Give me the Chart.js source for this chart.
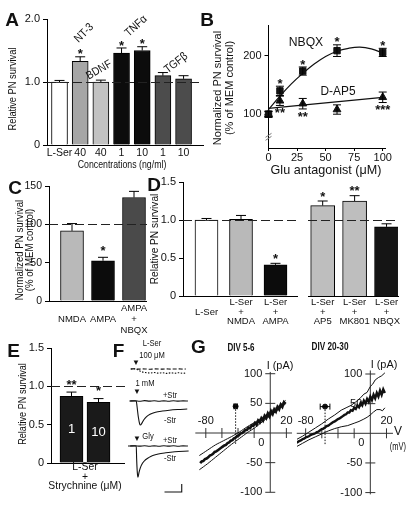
<!DOCTYPE html>
<html>
<head>
<meta charset="utf-8">
<title>PN survival figure</title>
<script src="https://cdn.jsdelivr.net/npm/chart.js@4.4.1/dist/chart.umd.min.js"></script>
<style>
  html, body { margin: 0; padding: 0; background: #fff; }
  body { position: relative; width: 413px; height: 508px; overflow: hidden; color: #111;
         font-family: "Liberation Sans", Arial, Helvetica, sans-serif; }
  canvas { position: absolute; }
  .t { position: absolute; white-space: nowrap; line-height: 1; }
</style>
</head>
<body>
<script>
// ---------- A: trophic factors ----------
const aConc = ['L-Ser', '40', '40', '1', '10', '1', '10'];
const aSurv = [1.00, 1.33, 1.00, 1.46, 1.50, 1.10, 1.05];
const aSem = [0.025, 0.07, 0.03, 0.08, 0.06, 0.05, 0.05];
const aSig = ['', '*', '', '*', '*', '', ''];
const aYTicks = [0, 1, 2];

// ---------- B: Glu antagonist dose response ----------
const bDose = [0, 10, 30, 60, 100];
const bNbqx = [100, 140, 174, 209, 206];
const bNbqxSem = [5, 8, 7, 10, 7];
const bNbqxSig = ['', '*', '*', '*', '*'];
const bAp5 = [100, 123, 118, 108, 129];
const bAp5Sem = [5, 8, 9, 8, 9];
const bAp5Sig = ['', '**', '**', '', '***'];
const bFitDose = [0, 10, 20, 30, 40, 50, 60, 70, 80, 90, 100];
const bNbqxFit = [108, 131, 152, 170, 186, 199, 208, 213, 215, 212, 205];
const bAp5FitDose = [0, 100];
const bAp5Fit = [110, 129];
const bXTicks = [0, 25, 50, 75, 100];
const bYTicks = [100, 200];

// ---------- C ----------
const cCats = [['', 'NMDA'], ['', 'AMPA'], ['AMPA', '+', 'NBQX']];
const cSurv = [91.5, 52.5, 135];
const cSem = [9.5, 4.5, 8];
const cSig = ['', '*', ''];
const cYTicks = [0, 50, 100, 150];

// ---------- D ----------
const dCatsL = [['', 'L-Ser'], ['L-Ser', '+', 'NMDA'], ['L-Ser', '+', 'AMPA']];
const dSurvL = [1.00, 1.01, 0.41];
const dSemL = [0.02, 0.05, 0.02];
const dSigL = ['', '', '*'];
const dCatsR = [['L-Ser', '+', 'AP5'], ['L-Ser', '+', 'MK801'], ['L-Ser', '+', 'NBQX']];
const dSurvR = [1.19, 1.25, 0.91];
const dSemR = [0.06, 0.07, 0.04];
const dSigR = ['*', '**', ''];
const dYTicks = [0, 0.5, 1, 1.5];

// ---------- E ----------
const eStry = ['1', '10'];
const eSurv = [0.87, 0.79];
const eSem = [0.055, 0.05];
const eSig = ['**', '*'];
const eYTicks = [0, 0.5, 1, 1.5];

// ---------- F: currents (ms, pA) ----------
const fT100 = [4, 10, 12, 16, 20, 26, 32, 38, 44, 50, 56, 62, 68, 74, 80, 84];
const f100Plus = [0, 3, 0, -2, 2, 0, -3, 1, 0, -2, 2, -1, 0, 2, -2, 0];
const f100Minus = [0, 2, 0, -20, -35, -45, -50, -44, -52, -47, -55, -48, -53, -46, -54, -50];
const fTBase = [3, 10, 17, 24, 31, 38, 45, 52, 59, 66, 73, 80, 87];
const f1mMPlus = [0, 4, -3, 5, -2, 3, -4, 2, -3, 4, -2, 1, 0];
const fT1mM = [2, 12, 13, 15, 17, 18, 20, 23, 27, 32, 40, 50, 60, 72, 86];
const f1mMMinus = [0, 0, -60, -200, -290, -300, -280, -235, -195, -165, -140, -125, -115, -107, -100];
const fGlyPlus = [0, 3, -2, 4, -3, 2, -4, 3, -2, 3, -3, 2, 0];
const fTGly = [0, 12, 12.5, 13.5, 14.5, 16, 18, 21, 25, 30, 36, 44, 55, 68, 88];
const fGlyMinus = [0, 0, -150, -330, -390, -330, -270, -215, -175, -145, -120, -100, -85, -72, -62];
const fBarT = [53, 78, 78];
const fBarI = [-575, -575, -475];

// ---------- G: I-V relations (mV, pA) ----------
const g5MeanV = [-87,-85,-83,-81,-79,-77,-75,-73,-71,-69,-67,-65,-63,-61,-59,-57,-55,-53,-51,-49,-47,-45,-43,-41,-39,-37,-35,-33,-31,-29,-27,-25,-23,-21,-19,-17,-15,-13,-11,-9,-7,-5,-3,-1,1,3,5,7,9,11,13,15,17,19];
const g5MeanI = [-51,-48,-47,-44,-43,-41,-38,-37,-35,-32,-31,-29,-27,-25,-23,-21,-20,-17,-16,-13,-12,-9,-8,-5,-4,-1,0,2,5,5,9,8,13,12,17,14,21,18,25,21,29,25,33,28,37,32,40,36,44,40,48,44,52,49];
const g5SemV = [-88, -78, -68, -58, -48, -38, -28, -18, -8, 2, 12, 19];
const g5UpI = [-38, -29, -20, -13, -6, 2, 11, 19, 28, 38, 47, 55];
const g5LoI = [-62, -52, -41, -30, -19, -9, 1, 10, 21, 31, 42, 49];
const g20MeanV = [-92,-90,-88,-86,-84,-82,-80,-78,-76,-74,-72,-70,-68,-66,-64,-62,-60,-58,-56,-54,-52,-50,-48,-46,-44,-42,-40,-38,-36,-34,-32,-30,-28,-26,-24,-22,-20,-18,-16,-14,-12,-10,-8,-6,-4,-2,0,2,4,6,8,10,12,14,16,18];
const g20MeanI = [-16,-15,-13,-12,-10,-9,-7,-6,-5,-3,-2,-1,0,2,3,5,7,8,10,12,13,15,17,19,20,22,24,25,27,29,31,32,35,35,39,38,43,41,47,44,51,47,55,50,58,53,62,56,65,59,68,62,72,65,74,68];
const g20UpV = [-92, -84, -76, -68, -60, -52, -44, -36, -30, -24, -18, -12, -8, -4, 0, 3, 6, 10, 14, 18];
const g20UpI = [-11, -5, 2, 9, 16, 24, 31, 39, 43, 47, 53, 60, 66, 69, 79, 83, 90, 94, 97, 102];
const g20LoV = [-92, -84, -76, -68, -60, -52, -44, -36, -28, -20, -14, -8, -4, 0, 4, 8, 12, 15, 18];
const g20LoI = [-23, -17, -11, -6, -1, 4, 8, 11, 13, 17, 20, 24, 27, 31, 36, 40, 40, 38, 43];
const gRevV = [-43, -56];
const gRevErr = [2, 6];
const gRevMarkI = 45;
const gRevLowI = -20;
const gVTicks = [-80, -60, -40, -20, 20];
const gVLabels = [-80, 20];
const gITicks = [-100, -50, 50, 100];

const FAM = '"Liberation Sans", Arial, Helvetica, sans-serif';

Chart.defaults.font.family = FAM;
Chart.defaults.font.size = 11;
Chart.defaults.color = '#111';
Chart.defaults.animation = false;
Chart.defaults.responsive = false;
Chart.defaults.maintainAspectRatio = false;
Chart.defaults.devicePixelRatio = 1;
Chart.defaults.events = [];
Chart.defaults.plugins.legend.display = false;
Chart.defaults.plugins.tooltip.enabled = false;

const pts = (xs, ys) => xs.map((x, i) => ({ x: x, y: ys[i] }));

function mk(b) {
  const c = document.createElement('canvas');
  c.width = b[2];
  c.height = b[3];
  c.style.left = b[0] + 'px';
  c.style.top = b[1] + 'px';
  document.body.appendChild(c);
  return c;
}

// text label centred on (x, y); sq squeezes it horizontally like the figure's condensed lettering
function L(s, x, y, size, o) {
  o = o || {};
  const sq = o.sq === undefined ? 0.85 : o.sq;
  const d = document.createElement('div');
  d.className = 't';
  d.textContent = s;
  d.style.left = x + 'px';
  d.style.top = y + 'px';
  d.style.fontSize = size + 'px';
  if (o.bold) d.style.fontWeight = 'bold';
  d.style.transform = 'translate(-50%,-50%)' + (o.rot ? ' rotate(' + o.rot + 'deg)' : '') + ' scaleX(' + sq + ')';
  document.body.appendChild(d);
}

// ---------- plugins ----------
// error bars, significance stars, labels inside bars
const marks = {
  id: 'marks',
  afterDatasetsDraw(chart, args, opts) {
    const ctx = chart.ctx, ys = chart.scales.y, xs = chart.scales.x;
    const cap = opts.cap || 5, gap = opts.gap || 3;
    ctx.save();
    chart.data.datasets.forEach((ds, di) => {
      const meta = chart.getDatasetMeta(di);
      meta.data.forEach((el, i) => {
        const v = ds.data[i].y;
        let top = el.y, bot = el.y;
        ctx.strokeStyle = '#000';
        ctx.lineWidth = 1;
        ctx.setLineDash([]);
        if (ds.err) {
          const e = ds.err[i];
          top = ys.getPixelForValue(v + e);
          bot = ds.errBoth ? ys.getPixelForValue(v - e) : el.y;
          ctx.beginPath();
          ctx.moveTo(el.x, top); ctx.lineTo(el.x, bot);
          ctx.moveTo(el.x - cap, top); ctx.lineTo(el.x + cap, top);
          if (ds.errBoth) { ctx.moveTo(el.x - cap, bot); ctx.lineTo(el.x + cap, bot); }
          ctx.stroke();
        }
        if (ds.xerr) {
          const e = ds.xerr[i], xv = ds.data[i].x;
          const l = xs.getPixelForValue(xv - e), r = xs.getPixelForValue(xv + e);
          ctx.beginPath();
          ctx.moveTo(l, el.y); ctx.lineTo(r, el.y);
          ctx.moveTo(l, el.y - 3); ctx.lineTo(l, el.y + 3);
          ctx.moveTo(r, el.y - 3); ctx.lineTo(r, el.y + 3);
          ctx.stroke();
        }
        if (ds.sig && ds.sig[i]) {
          ctx.fillStyle = '#111';
          ctx.font = 'bold 13px ' + FAM;
          ctx.textAlign = 'center';
          ctx.textBaseline = 'middle';
          const y = ds.sigBelow ? bot + gap + 6 : top - gap;
          ctx.fillText(ds.sig[i], el.x, y);
        }
        if (ds.inner) {
          ctx.fillStyle = '#fff';
          ctx.font = '13px ' + FAM;
          ctx.textAlign = 'center';
          ctx.textBaseline = 'middle';
          ctx.fillText(ds.inner[i], el.x, (el.y + el.base) / 2);
        }
      });
    });
    ctx.restore();
  }
};

// dashed control level
const refLine = {
  id: 'refLine',
  afterDatasetsDraw(chart, args, o) {
    if (o.value === undefined) return;
    const a = chart.chartArea, ctx = chart.ctx;
    const y = Math.round(chart.scales.y.getPixelForValue(o.value)) + 0.5;
    ctx.save();
    ctx.strokeStyle = '#222';
    ctx.lineWidth = 1.2;
    ctx.setLineDash([9, 4]);
    ctx.beginPath();
    ctx.moveTo(a.left, y);
    ctx.lineTo(a.right + (o.extend || 0), y);
    ctx.stroke();
    ctx.restore();
  }
};

// broken y axis mark
const axisBreak = {
  id: 'axisBreak',
  afterDraw(chart, args, o) {
    if (o.at === undefined) return;
    const ctx = chart.ctx, x = chart.chartArea.left, y = chart.scales.y.getPixelForValue(o.at);
    ctx.save();
    ctx.strokeStyle = '#777';
    ctx.lineWidth = 1;
    ctx.beginPath();
    ctx.moveTo(x - 3, y + 1); ctx.lineTo(x + 3, y - 3);
    ctx.moveTo(x - 3, y + 4); ctx.lineTo(x + 3, y);
    ctx.stroke();
    ctx.restore();
  }
};

// crossing axes for the I-V plots
const ivAxes = {
  id: 'ivAxes',
  beforeDatasetsDraw(chart, args, o) {
    if (!o.vRange) return;
    const ctx = chart.ctx, xs = chart.scales.x, ys = chart.scales.y;
    const x0 = xs.getPixelForValue(0), y0 = ys.getPixelForValue(0);
    ctx.save();
    ctx.strokeStyle = '#333';
    ctx.lineWidth = 1;
    ctx.beginPath();
    ctx.moveTo(xs.getPixelForValue(o.vRange[0]), y0); ctx.lineTo(xs.getPixelForValue(o.vRange[1]), y0);
    ctx.moveTo(x0, ys.getPixelForValue(o.iRange[0])); ctx.lineTo(x0, ys.getPixelForValue(o.iRange[1]));
    gVTicks.forEach(v => { const p = xs.getPixelForValue(v); ctx.moveTo(p, y0 - 5); ctx.lineTo(p, y0 + 5); });
    gITicks.forEach(v => { const p = ys.getPixelForValue(v); ctx.moveTo(x0 - 5, p); ctx.lineTo(x0 + 5, p); });
    ctx.stroke();
    ctx.fillStyle = '#111';
    ctx.font = '11px ' + FAM;
    ctx.textAlign = 'right';
    ctx.textBaseline = 'middle';
    gITicks.forEach(v => ctx.fillText(String(v), x0 - 8, ys.getPixelForValue(v)));
    ctx.textAlign = 'center';
    gVLabels.forEach(v => ctx.fillText(String(v), xs.getPixelForValue(v), y0 - 12));
    ctx.fillText('0', x0 - 9, y0 + 10);
    ctx.restore();
  }
};

// ---------- builders ----------
function barPanel(box, area, o) {
  const bl = box[0], bt = box[1], bw = box[2], bh = box[3];
  const al = area[0], at = area[1], ar = area[2], ab = area[3];
  return new Chart(mk(box), {
    type: 'bar',
    data: {
      datasets: [{
        data: o.vals.map((v, i) => ({ x: i, y: v })),
        backgroundColor: o.colors,
        borderColor: '#000',
        borderWidth: 1,
        barThickness: o.bar,
        err: o.err, sig: o.sig, inner: o.inner
      }]
    },
    options: {
      layout: { padding: { left: o.hideY ? al - bl : 0, top: at - bt, right: bl + bw - ar, bottom: 0 } },
      scales: {
        x: {
          type: 'linear', bounds: 'data', offset: false, min: o.xr[0], max: o.xr[1],
          afterBuildTicks: s => { s.ticks = o.vals.map((v, i) => ({ value: i })); },
          afterFit: s => { s.height = bt + bh - ab; },
          grid: { display: true, drawOnChartArea: false, drawTicks: false, offset: false },
          border: { display: true, color: '#000', width: 1 },
          ticks: {
            display: !!o.labels, autoSkip: false, maxRotation: 0, minRotation: 0,
            padding: o.xpad || 2,
            callback: v => (o.labels ? o.labels[v] : ''),
            font: { size: o.labelSize || 10.5, lineHeight: o.lh || 1.1 }
          }
        },
        y: {
          display: !o.hideY, bounds: 'data', min: o.yr[0], max: o.yr[1],
          afterBuildTicks: s => { s.ticks = o.yticks.map(v => ({ value: v })); },
          afterFit: s => { s.width = al - bl; },
          grid: { drawOnChartArea: false, drawTicks: true, tickLength: 4, color: '#000' },
          border: { color: '#000', width: 1 },
          ticks: { padding: 3, callback: o.yfmt, font: { size: o.ySize || 11 } }
        }
      },
      plugins: { refLine: o.ref || {}, marks: o.marks || {} }
    },
    plugins: [refLine, marks]
  });
}

const dec = v => (v === 0 ? '0' : v.toFixed(1));

// ---------- A ----------
barPanel([0, 5, 210, 160], [47, 19, 203, 145], {
  vals: aSurv, err: aSem, sig: aSig, labels: aConc,
  colors: ['#ffffff', '#a6a6a6', '#c2c2c2', '#0c0c0c', '#0c0c0c', '#4c4c4c', '#4c4c4c'],
  bar: 16, xr: [-0.605, 6.94], yr: [0, 2], yticks: aYTicks, yfmt: dec,
  labelSize: 10.5, xpad: 2, lh: '12px',
  ref: { value: 1 }, marks: { gap: 2, cap: 5 }
});

// ---------- B ----------
new Chart(mk([200, 15, 213, 165]), {
  type: 'scatter',
  data: {
    datasets: [
      { data: pts(bDose, bNbqx), pointStyle: 'rect', pointRadius: 4.5, backgroundColor: '#111', borderColor: '#111',
        err: bNbqxSem, errBoth: true, sig: bNbqxSig, clip: false },
      { data: pts(bDose, bAp5), pointStyle: 'triangle', pointRadius: 4.5, backgroundColor: '#111', borderColor: '#111',
        err: bAp5Sem, errBoth: true, sig: bAp5Sig, sigBelow: true, clip: false },
      { data: pts(bFitDose, bNbqxFit), showLine: true, pointRadius: 0, borderColor: '#111', borderWidth: 1.2, tension: 0.4 },
      { data: pts(bAp5FitDose, bAp5Fit), showLine: true, pointRadius: 0, borderColor: '#111', borderWidth: 1.2 }
    ]
  },
  options: {
    layout: { padding: { left: 0, top: 10, right: 28, bottom: 0 } },
    scales: {
      x: {
        type: 'linear', bounds: 'data', min: 0, max: 102,
        afterBuildTicks: s => { s.ticks = bXTicks.map(v => ({ value: v })); },
        afterFit: s => { s.height = 180 - 148; },
        grid: { drawOnChartArea: false, tickLength: 3, color: '#000' },
        border: { color: '#000' },
        ticks: { padding: 0, font: { size: 11 } }
      },
      y: {
        type: 'linear', bounds: 'data', min: 42, max: 253,
        afterBuildTicks: s => { s.ticks = bYTicks.map(v => ({ value: v })); },
        afterFit: s => { s.width = 268.5 - 200; },
        grid: { drawOnChartArea: false, tickLength: 4, color: '#000' },
        border: { color: '#000' },
        ticks: { padding: 3, font: { size: 11 } }
      }
    },
    plugins: { marks: { gap: 2, cap: 4 }, axisBreak: { at: 62 } }
  },
  plugins: [marks, axisBreak]
});

// ---------- C ----------
barPanel([0, 175, 150, 170], [49, 186, 146, 301], {
  vals: cSurv, err: cSem, sig: cSig, labels: cCats,
  colors: ['#b9b9b9', '#0c0c0c', '#4a4a4a'],
  bar: 23, xr: [-0.742, 2.387], yr: [0, 150], yticks: cYTicks, yfmt: v => String(v),
  labelSize: 9.5, lh: '11px', xpad: 1.5, ySize: 10.5,
  ref: { value: 100, extend: 1 }, marks: { gap: 6, cap: 5 }
});

// ---------- D ----------
barPanel([140, 172, 160, 165], [183, 182, 297, 296], {
  vals: dSurvL, err: dSemL, sig: dSigL, labels: dCatsL,
  colors: ['#ffffff', '#b9b9b9', '#0c0c0c'],
  bar: 23, xr: [-0.681, 2.623], yr: [0, 1.5], yticks: dYTicks, yfmt: dec,
  labelSize: 9.5, lh: '9.5px', xpad: 2,
  ref: { value: 1, extend: 6 }, marks: { gap: 4, cap: 5 }
});
barPanel([298, 172, 115, 165], [303, 182, 398, 296], {
  vals: dSurvR, err: dSemR, sig: dSigR, labels: dCatsR, hideY: true,
  colors: ['#bebebe', '#bebebe', '#151515'],
  bar: 24, xr: [-0.46, 2.359], yr: [0, 1.5], yticks: dYTicks, yfmt: dec,
  labelSize: 9.5, lh: '9.5px', xpad: 2,
  ref: { value: 1 }, marks: { gap: 4, cap: 5 }
});

// ---------- E ----------
barPanel([0, 338, 135, 135], [51, 348, 124, 463], {
  vals: eSurv, err: eSem, sig: eSig, inner: eStry,
  colors: ['#1a1a1a', '#1a1a1a'],
  bar: 23, xr: [-0.759, 1.944], yr: [0, 1.5], yticks: eYTicks, yfmt: dec,
  ref: { value: 1, extend: 4 }, marks: { gap: 7, cap: 5 }
});

// ---------- F ----------
function tracePanel(box, yr, sets) {
  return new Chart(mk(box), {
    type: 'scatter',
    data: {
      datasets: sets.map(s => Object.assign({
        showLine: true, pointRadius: 0, borderColor: '#111', borderWidth: 1.1, cubicInterpolationMode: 'monotone'
      }, s))
    },
    options: {
      layout: { padding: 0 },
      scales: {
        x: { type: 'linear', display: false, min: 0, max: 90 },
        y: { type: 'linear', display: false, min: yr[0], max: yr[1] }
      }
    }
  });
}
tracePanel([128, 360, 62, 20], [-137.5, 112.5], [
  { data: pts(fT100, f100Plus), borderDash: [4, 2] },
  { data: pts(fT100, f100Minus), borderDash: [1.5, 1.5] }
]);
tracePanel([128, 390, 62, 42], [-387.5, 137.5], [
  { data: pts(fTBase, f1mMPlus) },
  { data: pts(fT1mM, f1mMMinus) }
]);
tracePanel([128, 436, 62, 60], [-625, 125], [
  { data: pts(fTBase, fGlyPlus) },
  { data: pts(fTGly, fGlyMinus) },
  { data: pts(fBarT, fBarI), cubicInterpolationMode: 'default', tension: 0 }
]);

// ---------- G ----------
function ivPanel(box, area, xr, yr, sets, axes) {
  const bl = box[0], bt = box[1], bw = box[2], bh = box[3];
  const al = area[0], at = area[1], ar = area[2], ab = area[3];
  return new Chart(mk(box), {
    type: 'scatter',
    data: {
      datasets: sets.map(s => Object.assign({ showLine: true, pointRadius: 0, borderColor: '#111', borderWidth: 1 }, s))
    },
    options: {
      layout: { padding: { left: al - bl, top: at - bt, right: bl + bw - ar, bottom: bt + bh - ab } },
      scales: {
        x: { type: 'linear', display: false, min: xr[0], max: xr[1] },
        y: { type: 'linear', display: false, min: yr[0], max: yr[1] }
      },
      plugins: { ivAxes: axes, marks: { cap: 3 } }
    },
    plugins: [ivAxes, marks]
  });
}
ivPanel([190, 355, 110, 150], [195, 365, 298, 500], [-93.4, 30.7], [-113, 114.7], [
  { data: [{ x: gRevV[0], y: gRevMarkI }], showLine: false, pointRadius: 2.5, backgroundColor: '#111', xerr: [gRevErr[0]] },
  { data: pts([gRevV[0], gRevV[0]], [gRevMarkI, gRevLowI]), borderDash: [1.5, 1.5] },
  { data: pts(g5MeanV, g5MeanI), borderWidth: 2.6 },
  { data: pts(g5SemV, g5UpI), tension: 0.2 },
  { data: pts(g5SemV, g5LoI), tension: 0.2 }
], { vRange: [-93, 27], iRange: [-100, 103] });
ivPanel([292, 355, 121, 150], [297, 365, 411, 500], [-90.7, 46.6], [-112.5, 115.2], [
  { data: [{ x: gRevV[1], y: gRevMarkI }], showLine: false, pointRadius: 2.5, backgroundColor: '#111', xerr: [gRevErr[1]] },
  { data: pts([gRevV[1], gRevV[1]], [gRevMarkI, gRevLowI]), borderDash: [1.5, 1.5] },
  { data: pts(g20MeanV, g20MeanI), borderWidth: 2.4 },
  { data: pts(g20UpV, g20UpI) },
  { data: pts(g20LoV, g20LoI) }
], { vRange: [-91, 28], iRange: [-103, 106] });

// ---------- text ----------
const big = { bold: true, sq: 1 };
L('A', 12, 18.5, 19, big);
L('B', 207, 19, 19, big);
L('C', 15, 186.5, 19, big);
L('D', 154, 183.5, 19, big);
L('E', 13.5, 350, 19, big);
L('F', 118.5, 350, 19, big);
L('G', 198.5, 345.5, 19, big);

L('Relative PN survival', 13, 89, 11.3, { rot: -90, sq: 0.82 });
L('Concentrations (ng/ml)', 121.5, 163.5, 10.7, { sq: 0.82 });
L('NT-3', 84, 33, 11.5, { rot: -45, sq: 0.88 });
L('BDNF', 98.7, 69.7, 11.5, { rot: -30, sq: 0.88 });
L('TNFα', 136, 26, 11.5, { rot: -42, sq: 0.88 });
L('TGFβ', 176, 63, 11.5, { rot: -38, sq: 0.88 });

L('Normalized PN survival', 217, 88, 11, { rot: -90, sq: 1 });
L('(% of MEM control)', 229, 88, 11, { rot: -90, sq: 1 });
L('Glu antagonist (μM)', 326, 170, 12.6, { sq: 1 });
L('NBQX', 305.5, 41.7, 13.5, { sq: 0.9 });
L('D-AP5', 337.5, 91.3, 13.2, { sq: 0.9 });

L('Normalized PN survival', 18.5, 249.5, 10.5, { rot: -90, sq: 0.92 });
L('(% of MEM control)', 29.3, 249.5, 10.5, { rot: -90, sq: 0.92 });
L('Relative PN survival', 155, 238.5, 11.5, { rot: -90, sq: 0.88 });

L('Relative PN survival', 22, 404, 11, { rot: -90, sq: 0.83 });
L('L-Ser', 85, 467, 11.5, { sq: 0.9 });
L('+', 85, 476.5, 11.5, { sq: 0.9 });
L('Strychnine (μM)', 85, 486, 11.5, { sq: 0.9 });

L('L-Ser', 152, 343, 9.5, { sq: 0.8 });
L('100 μM', 152, 355, 9.5, { sq: 0.8 });
L('▼', 136, 363, 8, { sq: 1 });
L('1 mM', 145, 383, 9.5, { sq: 0.8 });
L('▼', 137, 392, 8, { sq: 1 });
L('+Str', 169.5, 395, 9.5, { sq: 0.8 });
L('-Str', 170, 420, 9.5, { sq: 0.8 });
L('Gly', 147.5, 436, 9.5, { sq: 0.8 });
L('▼', 137, 438.5, 8, { sq: 1 });
L('+Str', 169.5, 440, 9.5, { sq: 0.8 });
L('-Str', 170, 458, 9.5, { sq: 0.8 });

L('DIV 5-6', 240.5, 348, 10, { bold: true, sq: 0.8 });
L('DIV 20-30', 330, 347, 10, { bold: true, sq: 0.82 });
L('I (pA)', 280, 366, 11.5, { sq: 0.95 });
L('I (pA)', 383.5, 365, 11.5, { sq: 0.95 });
L('V', 398, 431, 12, { sq: 1 });
L('(mV)', 398, 447, 10, { sq: 0.75 });
</script>
</body>
</html>
